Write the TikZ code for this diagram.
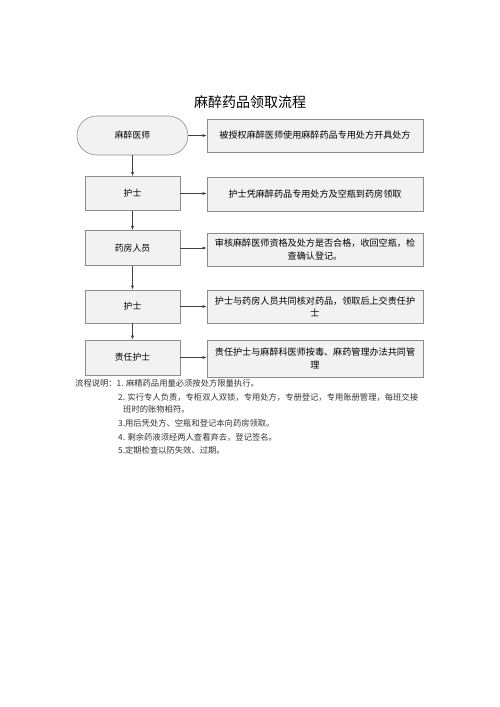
\documentclass[tikz,border=0pt]{standalone}
\usepackage{fontspec}
\setmainfont{Noto Sans CJK SC}
\usetikzlibrary{arrows.meta}
\definecolor{boxfill}{HTML}{F2F2F2}
\definecolor{boxline}{HTML}{8C8C8C}
\definecolor{arrowcol}{HTML}{404040}
\begin{document}
\begin{tikzpicture}[x=1pt,y=-1pt,
  leftbox/.style={draw=boxline,fill=boxfill,line width=0.6pt,minimum width=95pt,minimum height=34pt,inner sep=0pt,font=\fontsize{8.8}{10}\selectfont},
  rightbox/.style={draw=boxline,fill=boxfill,line width=0.6pt,minimum width=216pt,minimum height=33pt,inner sep=0pt,align=center,font=\fontsize{9.1}{12.5}\selectfont},
  flow/.style={draw=arrowcol,line width=0.6pt,-{Latex[length=4pt,width=3pt]}},
  note/.style={anchor=west,inner sep=0pt,font=\fontsize{8.3}{9}\selectfont,text=black!80}]
\useasboundingbox (0,0) rectangle (500,707);
\fill[white] (0,0) rectangle (500,707);
\node[font=\fontsize{14}{16}\selectfont] (title) at (250,102) {麻醉药品领取流程};
\node[leftbox,minimum width=111pt,minimum height=39pt,rounded corners=19.5pt] (n1) at (132.5,135.5) {麻醉医师};
\node[rightbox] (r1) at (315,135.5) {被授权麻醉医师使用麻醉药品专用处方开具处方};
\node[leftbox] (n2) at (132.5,193.5) {护士};
\node[rightbox,minimum height=34pt] (r2) at (315,194) {护士凭麻醉药品专用处方及空瓶到药房领取};
\node[leftbox,minimum height=35pt] (n3) at (132.5,248) {药房人员};
\node[rightbox] (r3) at (315,249.5) {审核麻醉医师资格及处方是否合格，收回空瓶，检\\查确认登记。};
\node[leftbox,minimum height=33pt] (n4) at (132.5,306.5) {护士};
\node[rightbox] (r4) at (315,306.5) {护士与药房人员共同核对药品，领取后上交责任护\\士};
\node[leftbox,minimum height=35pt] (n5) at (132.5,357.5) {责任护士};
\node[rightbox,minimum height=37pt] (r5) at (315,358.5) {责任护士与麻醉科医师按毒、麻药管理办法共同管\\理};
\draw[flow] (n1.east) -- (n1.east -| r1.west);
\draw[flow] (n2.east) -- (n2.east -| r2.west);
\draw[flow] (n3.east) -- (n3.east -| r3.west);
\draw[flow] (n4.east) -- (n4.east -| r4.west);
\draw[flow] (n5.east) -- (n5.east -| r5.west);
\draw[flow] (n1.south) -- (n2.north);
\draw[flow] (n2.south) -- (n3.north);
\draw[flow] (n3.south) -- (n4.north);
\draw[flow] (n4.south) -- (n5.north);
\node[note] (t0) at (75,383) {流程说明：1. 麻精药品用量必须按处方限量执行。};
\node[note] (t1) at (118,397) {2. 实行专人负责，专柜双人双锁，专用处方，专册登记，专用账册管理，每班交接};
\node[note] (t2) at (123,409) {班时的账物相符。};
\node[note] (t3) at (118,423) {3.用后凭处方、空瓶和登记本向药房领取。};
\node[note] (t4) at (118,437) {4. 剩余药液须经两人查看弃去，登记签名。};
\node[note] (t5) at (118,450) {5.定期检查以防失效、过期。};
\end{tikzpicture}
\end{document}
